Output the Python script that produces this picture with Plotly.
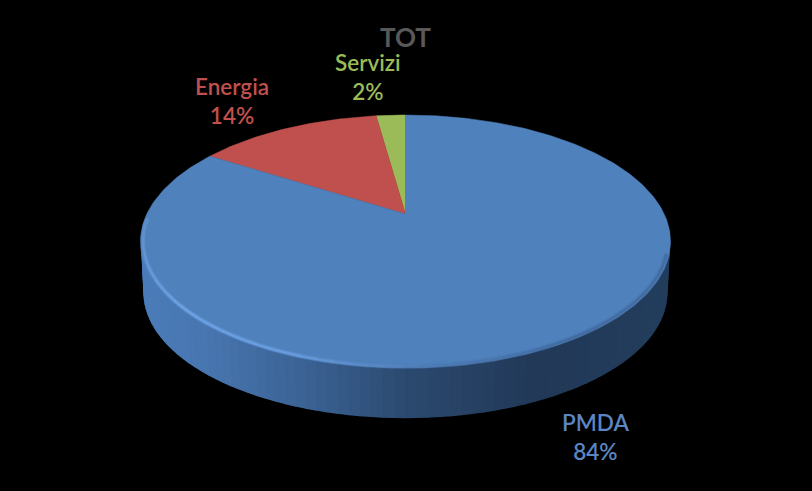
import numpy as np
import plotly.graph_objects as go

# slice order runs counter-clockwise from 12 o'clock
categories = ["Servizi", "Energia", "PMDA"]
values = [2.2, 13.8, 84.0]
colors = ["#9bbb59", "#c0504d", "#4f81bd"]
label_colors = ["#9bbb59", "#c0504d", "#5b86c2"]
label_xy = [(368, 77), (232, 101), (595, 437)]
title_text = "TOT"

# wall shading, left to right across the front of the disc
wall_stops = [0.0, 0.12, 0.3, 0.5, 0.75, 1.0]
wall_rgb = [(76, 125, 186), (72, 118, 176), (60, 100, 150), (44, 74, 112), (34, 57, 87), (36, 62, 94)]

# projection of the tilted disc
CX, APEX_Y = 405.5, 214.0
R, S, PERSP = 258.7, 120.5, 0.2175
DEPTH, BOTTOM_SCALE = 51.5, 0.985


def project(theta, scale=1.0, drop=0.0):
    """theta in degrees, clockwise from the top of the disc"""
    t = np.radians(theta)
    w = 1 + PERSP * np.cos(t)
    return CX + scale * R * np.sin(t) / w, APEX_Y + drop - scale * S * np.cos(t) / w


fig = go.Figure()

# side wall, drawn as thin strips
wall_angles = np.linspace(90, 270, 91)
for a0, a1 in zip(wall_angles[:-1], wall_angles[1:]):
    arc = np.linspace(a0, a1, 3)
    xt, yt = project(arc, 0.995)
    xb, yb = project(arc[::-1], BOTTOM_SCALE, DEPTH)
    pos = (project((a0 + a1) / 2)[0] - 140) / 531
    rgb = [np.interp(pos, wall_stops, [c[i] for c in wall_rgb]) for i in range(3)]
    col = "rgb(%d,%d,%d)" % tuple(rgb)
    fig.add_trace(go.Scatter(x=np.r_[xt, xb], y=np.r_[yt, yb], mode="lines", fill="toself",
                             fillcolor=col, line=dict(color=col, width=2), hoverinfo="skip"))

# top face, going counter-clockwise from the top
start = 0.0
for name, val, col in zip(categories, values, colors):
    end = start + val * 3.6
    arc = -np.linspace(start, end, max(int(val * 4), 8))
    xs, ys = project(arc)
    fig.add_trace(go.Scatter(x=np.r_[CX, xs, CX], y=np.r_[APEX_Y, ys, APEX_Y], mode="lines",
                             fill="toself", fillcolor=col, line=dict(color=col, width=0.5),
                             name=name, hoverinfo="skip"))
    start = end

# bevel on the front rim: light on the left, soft shadow on the right
rim_angles = np.linspace(108, 268, 54)
for width, alpha in [(5, 0.3), (3, 0.55), (1.5, 0.9)]:
    for a0, a1 in zip(rim_angles[:-1], rim_angles[1:]):
        mid = (a0 + a1) / 2
        glow = np.interp(mid, [108, 150, 175, 200, 225, 268], [0.0, 0.0, 0.25, 0.85, 1.0, 0.6])
        rgb = [np.interp(glow, [0, 1], [a, b]) for a, b in zip((66, 108, 160), (112, 166, 232))]
        col = "rgba(%d,%d,%d,%.2f)" % (*rgb, alpha)
        xs, ys = project(np.linspace(a0, a1, 3), 0.99)
        fig.add_trace(go.Scatter(x=xs, y=ys, mode="lines", line=dict(color=col, width=width),
                                 hoverinfo="skip"))

annotations = [dict(x=405, y=37, text=title_text, showarrow=False,
                    font=dict(family="Lato", size=26, color="#595959", weight="bold"))]
for name, val, col, (lx, ly) in zip(categories, values, label_colors, label_xy):
    annotations.append(dict(x=lx, y=ly, text="%s<br>%d%%" % (name, round(val)), showarrow=False,
                            font=dict(family="Lato", size=22.5, color=col, weight=600)))

fig.update_layout(width=812, height=491, margin=dict(l=0, r=0, t=0, b=0),
                  paper_bgcolor="black", plot_bgcolor="black", showlegend=False,
                  annotations=annotations,
                  xaxis=dict(range=[0, 812], visible=False),
                  yaxis=dict(range=[491, 0], visible=False))
fig.write_html("out.html", config={"displayModeBar": False},
               post_script="document.body.style.margin='0';document.body.style.background='black';")
